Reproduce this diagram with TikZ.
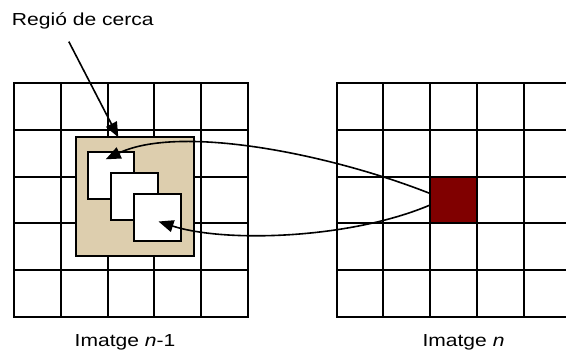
\documentclass[tikz,border=0pt]{standalone}
\usepackage{fontspec}
\setmainfont{Liberation Sans}[FakeStretch=1.21]
\usetikzlibrary{arrows.meta, positioning}
\definecolor{tanzone}{RGB}{221,206,174}
\definecolor{maroon}{RGB}{128,0,0}

\tikzset{
  cell/.style={minimum size=46.8pt, inner sep=0pt, outer sep=0pt},
  block/.style={draw, fill=white, minimum size=46.7pt, inner sep=0pt, outer sep=0pt},
  link/.style={->, line width=1.6pt}
}

\begin{document}
\begin{tikzpicture}[x=1pt, y=-1pt, line width=2pt,
  >={Triangle[length=15pt, width=12pt]},
  font=\fontsize{17.4}{20}\selectfont]
  \clip (0,0) rectangle (566,351);
  \foreach \gx in {14,336.5} {
    \foreach \k in {0,...,5} {
      \draw[line cap=rect] ({\gx+46.8*\k},83) -- ({\gx+46.8*\k},317);
      \draw[line cap=rect] (\gx,{83+46.8*\k}) -- ({\gx+234},{83+46.8*\k});
    }
  }
  \node[cell, draw, fill=maroon] (cur) at (453.5,200) {};

  \node[draw, fill=tanzone, minimum size=118.4pt, inner sep=0pt, outer sep=0pt] (zona) at (134.9,196.5) {};
  \node[block] (cand1) at (111,175.3) {};
  \node[block] (cand2) at (134.7,196.5) {};
  \node[block] (cand3) at (157.8,217.7) {};

  \node[anchor=base west, inner sep=0pt] (lblzona) at (11,25) {Regió de cerca};
  \node[anchor=base, inner sep=0pt] (imgprev) at (125,346) {Imatge \textit{n}-1};
  \node[anchor=base, inner sep=0pt] (imgcur) at (463.5,346) {Imatge \textit{n}};

  \draw[link] ([shift={(-14pt,-12pt)}]lblzona.south) -- ([xshift=-16.6pt]zona.north);
  \draw[link] ([yshift=6.5pt]cur.west) .. controls (330,154) and (180,124) .. ([shift={(-5.3pt,16pt)}]cand1.center);
  \draw[link] ([yshift=-5pt]cur.west) .. controls (350,239) and (225,243) .. ([shift={(0.7pt,-3.8pt)}]cand3.center);
\end{tikzpicture}
\end{document}
